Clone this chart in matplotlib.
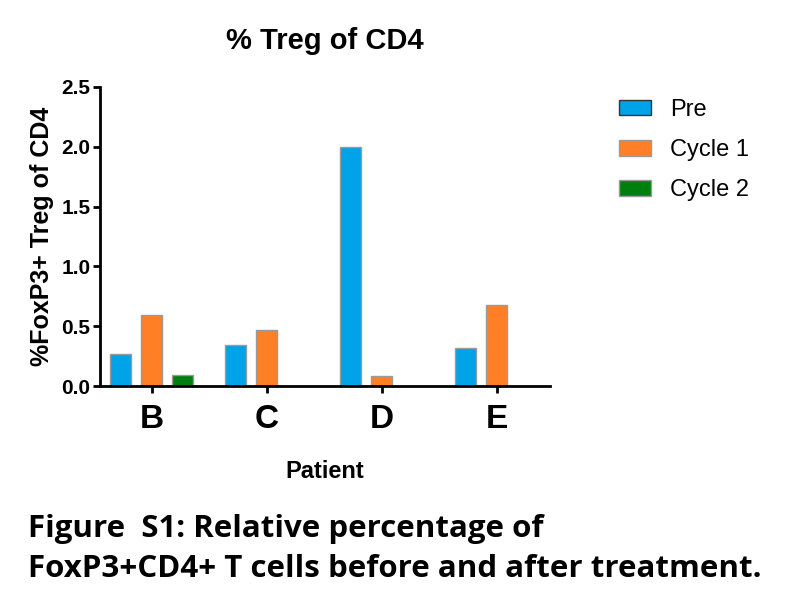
import matplotlib
matplotlib.use("Agg")
import matplotlib.pyplot as plt
import numpy as np

# % FoxP3+ Treg of CD4, per patient
patients = ["B", "C", "D", "E"]
pre = [0.27, 0.345, 2.0, 0.315]
cycle1 = [0.59, 0.47, 0.085, 0.675]
cycle2 = [0.09, 0.0, 0.0, 0.0]
series_names = ["Pre", "Cycle 1", "Cycle 2"]
colors = ["#00a2e8", "#ff7f27", "#007f0e"]
caption = ["Figure  S1: Relative percentage of",
           "FoxP3+CD4+ T cells before and after treatment."]

plt.rcParams["font.family"] = ["Liberation Sans", "DejaVu Sans"]

fig = plt.figure(figsize=(7.98, 6.11), dpi=100)
ax = fig.add_axes([0.1253, 0.368, 0.5637, 0.490])

x = np.arange(len(patients))
w = 0.183
off = 0.27
bars = []
for i, (vals, name) in enumerate(zip([pre, cycle1, cycle2], series_names)):
    vals = np.array(vals)
    mask = vals > 0
    b = ax.bar(x[mask] + (i - 1) * off, vals[mask], width=w, color=colors[i],
               edgecolor="#9a9a9a", linewidth=1.0, label=name)
    bars.append(b)

ax.set_xlim(-0.45, 3.46)
ax.set_ylim(0, 2.5)
ax.set_yticks([0, 0.5, 1.0, 1.5, 2.0, 2.5])
ax.set_yticklabels(["0.0", "0.5", "1.0", "1.5", "2.0", "2.5"])
ax.set_xticks(x)
ax.set_xticklabels(patients, fontsize=24, fontweight="bold")
for lab in ax.get_yticklabels():
    lab.set_fontsize(15)
    lab.set_fontweight("bold")
ax.tick_params(axis="both", direction="out", length=5, width=2, color="black")
ax.tick_params(axis="x", pad=8)
ax.tick_params(axis="y", pad=2)
for s in ["top", "right"]:
    ax.spines[s].set_visible(False)
for s in ["left", "bottom"]:
    ax.spines[s].set_linewidth(2)

ax.set_ylabel("%FoxP3+ Treg of CD4", fontsize=18, fontweight="bold", labelpad=5)
ax.set_xlabel("Patient", fontsize=17, fontweight="bold", labelpad=18)
ax.set_title("% Treg of CD4", fontsize=21, fontweight="bold", pad=27)

leg = fig.legend(handles=bars, labels=series_names, loc="upper left",
                 bbox_to_anchor=(0.749, 0.873), frameon=False, fontsize=17,
                 handlelength=1.36, handleheight=0.64, handletextpad=0.8,
                 labelspacing=0.77)
leg.legend_handles[0].set_edgecolor("#333333")

# caption, sized so the second line spans about 732 px
cap_font = ["Liberation Sans Narrow", "Open Sans", "DejaVu Sans"]
t1 = fig.text(0.035, 1 - 537 / 611, caption[0], fontsize=25, fontweight="bold",
              family=cap_font, ha="left", va="baseline")
t2 = fig.text(0.035, 1 - 577 / 611, caption[1], fontsize=25, fontweight="bold",
              family=cap_font, ha="left", va="baseline")
r = fig.canvas.get_renderer()
scale = 732 / t2.get_window_extent(r).width
t1.set_fontsize(25 * scale)
t2.set_fontsize(25 * scale)

fig.savefig("out.png", dpi=100)
